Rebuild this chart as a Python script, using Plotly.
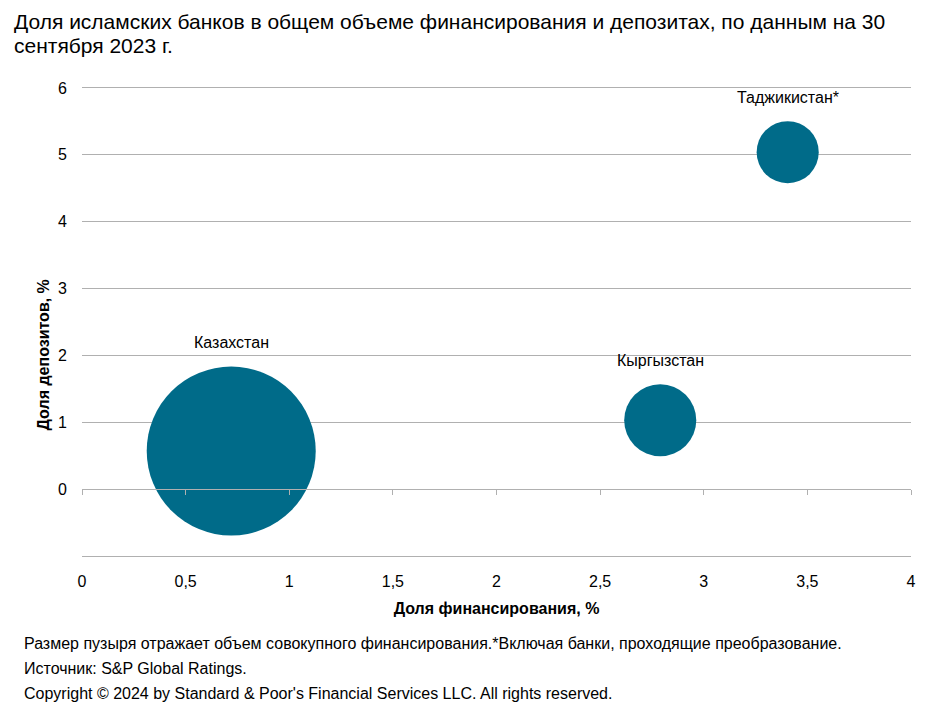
"""Bubble chart: share of Islamic banks in financing and deposits, Central Asia."""

import math

import plotly.graph_objects as go

countries = ["Казахстан", "Кыргызстан", "Таджикистан*"]
financing_share = [0.72, 2.79, 3.405]
deposit_share = [0.57, 1.03, 5.04]
financing_volume = [100, 18.2, 13.5]

x_ticks = [0, 0.5, 1, 1.5, 2, 2.5, 3, 3.5, 4]
y_ticks = [-1, 0, 1, 2, 3, 4, 5, 6]
y_tick_text = ["", "0", "1", "2", "3", "4", "5", "6"]

title_lines = [
    "Доля исламских банков в общем объеме финансирования и депозитах, по данным на 30",
    "сентября 2023 г.",
]
notes = [
    "Размер пузыря отражает объем совокупного финансирования.*Включая банки, проходящие преобразование.",
    "Источник: S&P Global Ratings.",
    "Copyright © 2024 by Standard & Poor's Financial Services LLC. All rights reserved.",
]

FONT = "Liberation Sans, Arial, sans-serif"
BUBBLE = "#006b89"
GRID = "#b0b0b0"

# the page body adds an 8px offset, so the figure is a bit smaller than the window
W, H = 942, 706
L, R, T, B = 74, 39, 80, 158
PW, PH = W - L - R, H - T - B


def px_x(px):
    return (px - L) / PW


def px_y(py):
    return (H - B - py) / PH


max_diam = 169
sizeref = 2.0 * max(financing_volume) / max_diam ** 2

fig = go.Figure()
fig.add_trace(
    go.Scatter(
        x=financing_share,
        y=deposit_share,
        mode="markers",
        marker=dict(
            size=financing_volume,
            sizemode="area",
            sizeref=sizeref,
            color=BUBBLE,
            line=dict(width=0),
            opacity=1,
        ),
        hoverinfo="skip",
        showlegend=False,
    )
)
# empty trace that carries the zero-level axis with tick marks
fig.add_trace(go.Scatter(x=[], y=[], xaxis="x2", showlegend=False, hoverinfo="skip"))

fig.update_layout(
    width=W,
    height=H,
    margin=dict(l=L, r=R, t=T, b=B),
    paper_bgcolor="white",
    plot_bgcolor="white",
    separators=", ",
    font=dict(family=FONT, size=16, color="#000000"),
    xaxis=dict(
        range=[0, 4],
        tickvals=x_ticks,
        showgrid=False,
        zeroline=False,
        showline=True,
        mirror=True,
        linecolor=GRID,
        linewidth=1,
        ticks="",
        ticklabelstandoff=11,
        tickfont=dict(family=FONT, size=16, color="#000000"),
        title=dict(
            text="<b>Доля финансирования, %</b>",
            font=dict(family=FONT, size=16, color="#000000"),
            standoff=13,
        ),
    ),
    xaxis2=dict(
        range=[0, 4],
        tickvals=x_ticks,
        overlaying="x",
        anchor="free",
        position=px_y(489 - 8),
        side="bottom",
        showgrid=False,
        zeroline=False,
        showline=True,
        linecolor=GRID,
        linewidth=1,
        ticks="outside",
        ticklen=5,
        tickcolor=GRID,
        showticklabels=False,
    ),
    yaxis=dict(
        range=[-1, 6],
        tickvals=y_ticks,
        ticktext=y_tick_text,
        showgrid=True,
        gridcolor=GRID,
        gridwidth=1,
        zeroline=False,
        showline=False,
        ticks="",
        ticklabelstandoff=14,
        tickfont=dict(family=FONT, size=16, color="#000000"),
    ),
)

# data labels sit about 24px above the top of each bubble
for name, xv, yv, vol in zip(countries, financing_share, deposit_share, financing_volume):
    radius = math.sqrt(vol / (2 * sizeref))
    fig.add_annotation(
        text=name,
        x=xv,
        y=yv,
        yshift=radius + 24,
        showarrow=False,
        font=dict(family=FONT, size=16, color="#000000"),
    )

for line, py in zip(title_lines, [13, 37]):
    fig.add_annotation(
        text=line,
        xref="paper",
        yref="paper",
        x=px_x(4),
        y=px_y(py),
        xanchor="left",
        yanchor="middle",
        showarrow=False,
        font=dict(family=FONT, size=21, color="#000000"),
    )

fig.add_annotation(
    text="<b>Доля депозитов, %</b>",
    textangle=-90,
    xref="paper",
    yref="paper",
    x=px_x(24),
    y=px_y(347),
    showarrow=False,
    font=dict(family=FONT, size=16, color="#000000"),
)

for note, py in zip(notes, [635, 660, 685]):
    fig.add_annotation(
        text=note,
        xref="paper",
        yref="paper",
        x=px_x(14),
        y=px_y(py),
        xanchor="left",
        yanchor="middle",
        showarrow=False,
        font=dict(family=FONT, size=16, color="#000000"),
    )

fig.write_html("out.html")
